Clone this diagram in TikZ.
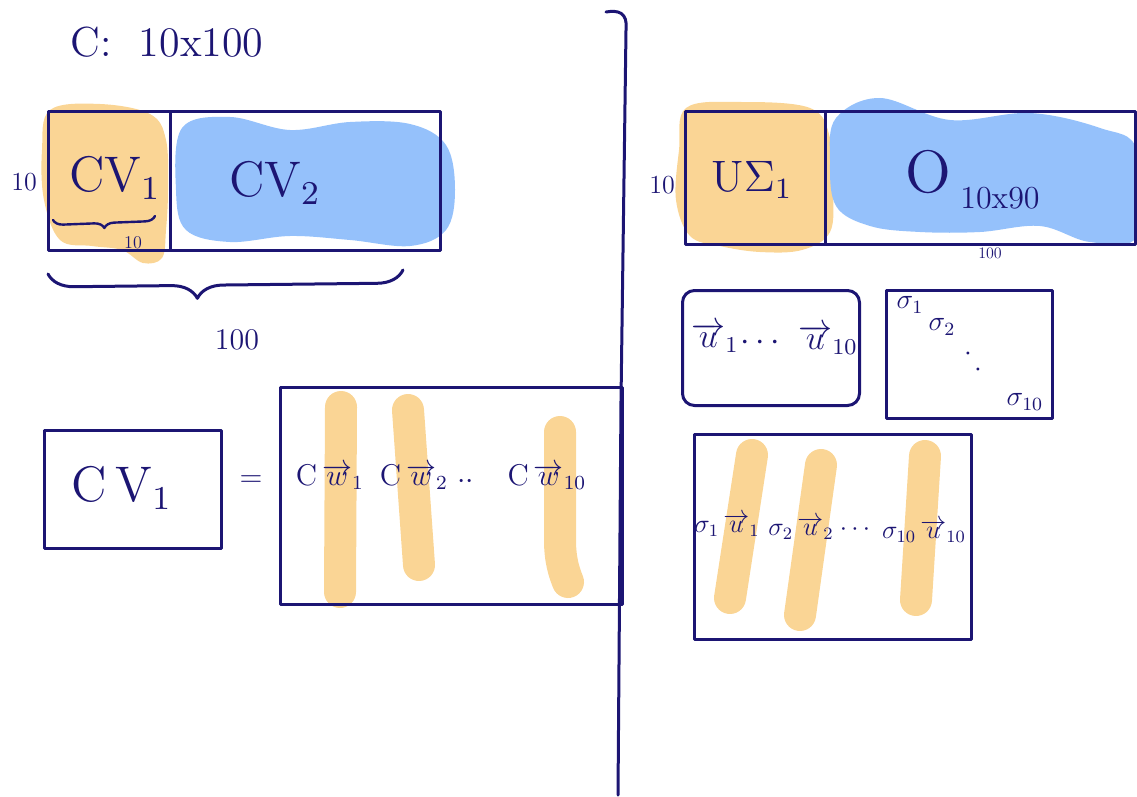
\documentclass[tikz,border=0pt]{standalone}
\usetikzlibrary{decorations.pathreplacing}
\definecolor{ink}{HTML}{1C1573}
\definecolor{hlo}{HTML}{FAD595}
\definecolor{hlb}{HTML}{95C1FB}
\tikzset{
  inkline/.style={draw=ink, line width=3pt, line cap=round, line join=round},
  box/.style={inkline, rectangle, inner sep=0pt},
  lbl/.style={text=ink, inner sep=0pt, font=\large},
  sz/.style={scale=#1/12},
  hlstroke/.style={draw=hlo, line width=32pt, line cap=round, line join=round},
  bracestyle/.style={inkline, decorate},
}
\begin{document}
\begin{tikzpicture}[x=1pt,y=-1pt]
\useasboundingbox (0,0) rectangle (1137,797);

% ---------- highlighter blobs ----------
\fill[hlo] plot[smooth cycle, tension=0.6] coordinates {(50,110) (100,104) (150,114) (166,140) (168,190) (166,230) (162,258) (143,263) (122,250) (92,246) (60,240) (44,200) (42,150)};
\fill[hlb] plot[smooth cycle, tension=0.6] coordinates {(182,128) (230,117) (290,130) (350,122) (410,124) (446,145) (455,190) (446,230) (410,246) (350,240) (290,236) (230,242) (186,230) (176,190)};
\fill[hlo] plot[smooth cycle, tension=0.6] coordinates {(686,108) (740,102) (810,108) (830,138) (833,190) (830,232) (802,250) (760,252) (720,246) (690,236) (676,200) (679,150)};
\fill[hlb] plot[smooth cycle, tension=0.6] coordinates {(836,118) (880,98) (950,120) (1030,113) (1100,128) (1137,150) (1137,236) (1090,242) (1040,226) (980,232) (920,232) (870,226) (836,206) (830,160)};

\draw[hlstroke] (341,407) -- (340,592);
\draw[hlstroke] (408,410) -- (419,565);
\draw[hlstroke] (560,432) -- (560,540) .. controls (560,560) and (564,572) .. (568,582);
\draw[hlstroke] (752,455) -- (730,598);
\draw[hlstroke] (821,465) -- (800,615);
\draw[hlstroke] (925,456) -- (916,600);

% ---------- divider ----------
\draw[inkline] (606,12) .. controls (618,10) and (628,12) .. (626,30) -- (621,400) -- (618,795);

% ---------- top left ----------
\node[lbl, sz=42] (title) at (167,42) {C:\ \ 10x100};
\node[box, minimum width=122pt, minimum height=138pt] (cvonebox) at (109,181) {};
\node[box, minimum width=270pt, minimum height=138pt] (cvtwobox) at (305,181) {};
\node[lbl, sz=50] (cvone) at (115,178) {CV$_1$};
\node[lbl, sz=50] (cvtwo) at (275,183) {CV$_2$};
\node[lbl, sz=26] (rows) at (24,182) {10};
\coordinate (sba) at (53,220);
\coordinate (sbb) at (155,216);
\draw[bracestyle, line width=2.4pt, decoration={brace, mirror, amplitude=10pt}] (sba) -- (sbb);
\node[lbl, sz=18] (smallten) at (133,243) {10};
\coordinate (bba) at (48,274);
\coordinate (bbb) at (403,270);
\draw[bracestyle, decoration={brace, mirror, amplitude=26pt, aspect=0.42}] (bba) -- (bbb);
\node[lbl, sz=30] (hundred) at (237,340) {100};

% ---------- bottom left ----------
\node[box, minimum width=177pt, minimum height=118pt] (cvoneb) at (133,489) {};
\node[lbl, sz=50] (cvonebl) at (122,488) {C\,V$_1$};
\node[lbl, sz=30] (eq) at (251,481) {=};
\node[box, minimum width=342pt, minimum height=217pt] (cwbox) at (451,496) {};
\node[lbl, sz=30] (cwone) at (330,477) {C$\,\overrightarrow{w}_1$};
\node[lbl, sz=30] (cwtwo) at (414,477) {C$\,\overrightarrow{w}_2$};
\node[lbl, sz=30] (cwdots) at (466,482) {$\cdot\cdot$};
\node[lbl, sz=30] (cwten) at (547,477) {C$\,\overrightarrow{w}_{10}$};

% ---------- top right ----------
\node[box, minimum width=140pt, minimum height=133pt] (usbox) at (755,178) {};
\node[box, minimum width=310pt, minimum height=133pt] (obox) at (980,178) {};
\node[lbl, sz=26] (rowsr) at (662,185) {10};
\node[lbl, sz=44] (us) at (752,180) {U$\Sigma_1$};
\node[lbl, sz=60] (ozero) at (928,172) {O};
\node[lbl, sz=32] (osub) at (1000,198) {10x90};
\node[lbl, sz=16] (hundredr) at (990,253) {100};

% ---------- middle right ----------
\node[box, rounded corners=12pt, minimum width=177pt, minimum height=115pt] (ubox) at (771,348) {};
\node[box, minimum width=166pt, minimum height=128pt] (sbox) at (969,354) {};
\node[lbl, sz=34] (uone) at (715,338) {$\overrightarrow{u}_1$};
\node[lbl, sz=34] (udots) at (760,343) {$\cdots$};
\node[lbl, sz=34] (uten) at (828,340) {$\overrightarrow{u}_{10}$};
\node[lbl, sz=28] (sone) at (910,305) {$\sigma_1$};
\node[lbl, sz=28] (stwo) at (942,327) {$\sigma_2$};
\node[lbl, sz=28] (sdota) at (968,354) {$\cdot$};
\node[lbl, sz=28] (sdotb) at (978,370) {$\cdot$};
\node[lbl, sz=28] (sten) at (1025,402) {$\sigma_{10}$};

% ---------- bottom right ----------
\node[box, minimum width=277pt, minimum height=205pt] (subox) at (833,537) {};
\node[lbl, sz=26] (suone) at (727,525) {$\sigma_1\,\overrightarrow{u}_1$};
\node[lbl, sz=26] (sutwo) at (801,528) {$\sigma_2\,\overrightarrow{u}_2$};
\node[lbl, sz=26] (sudots) at (855,530) {$\cdots$};
\node[lbl, sz=26] (suten) at (924,531) {$\sigma_{10}\,\overrightarrow{u}_{10}$};
\end{tikzpicture}
\end{document}
